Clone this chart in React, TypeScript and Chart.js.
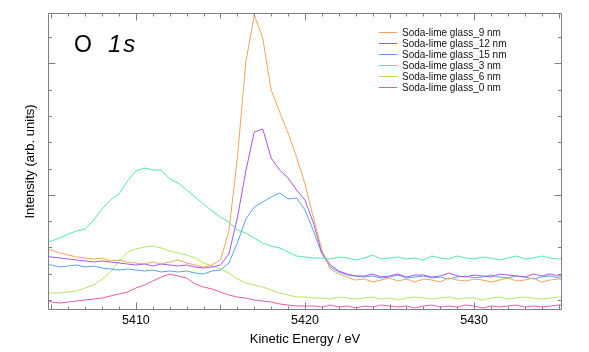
import { useEffect, useRef } from "react";
import { Chart, registerables } from "chart.js";

Chart.register(...registerables);

const FONT = "'Liberation Sans', Arial, Helvetica, sans-serif";

// Kinetic energy (eV)
const energies = [
  5404.5, 5405, 5405.5, 5406, 5406.5, 5407, 5407.5, 5408, 5408.5, 5409,
  5409.5, 5410, 5410.5, 5411, 5411.5, 5412, 5412.5, 5413, 5413.5, 5414,
  5414.5, 5415, 5415.5, 5416, 5416.5, 5417, 5417.5, 5418, 5418.5, 5419,
  5419.5, 5420, 5420.5, 5421, 5421.5, 5422, 5422.5, 5423, 5423.5, 5424,
  5424.5, 5425, 5425.5, 5426, 5426.5, 5427, 5427.5, 5428, 5428.5, 5429,
  5429.5, 5430, 5430.5, 5431, 5431.5, 5432, 5432.5, 5433, 5433.5, 5434,
  5434.5, 5435, 5435.5,
];

// Intensity (arb. units)
const glass9nm = [
  62, 60, 57, 55, 53, 52, 51, 52, 49, 50,
  48, 47, 46, 48, 46, 48, 50, 47, 45, 43,
  45, 50, 79, 152, 248, 295, 272, 220, 198, 177,
  153, 126, 92, 60, 41, 36, 33, 30, 31, 28,
  30, 32, 29, 31, 28, 31, 30, 28, 32, 30,
  29, 31, 30, 28, 30, 32, 29, 30, 32, 28,
  30, 31, 30,
];
const glass12nm = [
  54, 53, 52, 51, 50, 49, 48, 49, 48, 47,
  46, 45, 46, 44, 46, 45, 44, 45, 43, 42,
  43, 45, 56, 92, 139, 178, 181, 152, 140, 132,
  120, 110, 87, 57, 45, 39, 36, 34, 34, 36,
  33, 34, 36, 33, 35, 35, 33, 34, 37, 34,
  33, 35, 34, 33, 36, 35, 34, 33, 36, 34,
  36, 34, 35,
];
const glass15nm = [
  46, 45, 43, 44, 45, 43, 44, 42, 41, 40,
  41, 40, 39, 40, 38, 39, 38, 39, 37, 36,
  39, 40, 47, 67, 91, 103, 108, 113, 117, 111,
  112, 100, 79, 56, 43, 38, 35, 34, 33, 34,
  32, 33, 35, 32, 33, 34, 32, 33, 31, 33,
  34, 32, 33, 35, 33, 32, 34, 33, 31, 33,
  34, 32, 33,
];
const glass3nm = [
  67, 69, 72, 76, 79, 81, 90, 101, 110, 116,
  129, 139, 142, 140, 140, 131, 127, 120, 113, 106,
  99, 93, 88, 80, 77, 72, 67, 64, 62, 58,
  54, 53, 52, 52, 51, 53, 52, 50, 52, 55,
  51, 52, 53, 51, 52, 50, 54, 52, 51, 54,
  52, 51, 53, 52, 50, 52, 54, 51, 52, 54,
  52, 51, 53,
];
const glass6nm = [
  16, 17, 17, 18, 19, 22, 25, 31, 38, 49,
  58, 61, 63, 64, 62, 59, 57, 55, 52, 47,
  44, 41, 37, 31, 27, 25, 23, 20, 17, 15,
  13, 13, 12, 12, 11, 13, 12, 11, 12, 13,
  11, 12, 10, 12, 13, 12, 11, 12, 13, 11,
  12, 12, 10, 12, 13, 11, 12, 13, 12, 11,
  12, 13, 12,
];
const glass0nm = [
  10, 8, 7, 8, 9, 10, 11, 12, 14, 16,
  18, 22, 25, 29, 33, 36, 34, 32, 26, 23,
  21, 18, 15, 13, 12, 10, 9, 8, 6, 5,
  4, 4, 4, 3, 5, 3, 4, 2, 4, 3,
  5, 4, 3, 4, 2, 4, 5, 3, 4, 3,
  5, 4, 2, 4, 3, 4, 5, 3, 4, 3,
  4, 5, 4,
];

const seriesLabels = [
  "Soda-lime glass_9 nm",
  "Soda-lime glass_12 nm",
  "Soda-lime glass_15 nm",
  "Soda-lime glass_3 nm",
  "Soda-lime glass_6 nm",
  "Soda-lime glass_0 nm",
];
const seriesValues = [glass9nm, glass12nm, glass15nm, glass3nm, glass6nm, glass0nm];
const seriesColors = ["#f4a35c", "#a457ec", "#58a2ee", "#55e6a8", "#b2e65e", "#ec58ad"];

// Axis ticks
const xLabelValues = [5410, 5420, 5430];
const xTickMarks = [
  5405, 5406, 5407, 5408, 5409, 5410, 5411, 5412, 5413, 5414,
  5415, 5416, 5417, 5418, 5419, 5420, 5421, 5422, 5423, 5424,
  5425, 5426, 5427, 5428, 5429, 5430, 5431, 5432, 5433, 5434, 5435,
];
const yTickMarks = [10, 36.3, 62.6, 88.9, 115.2, 141.5, 167.8, 194.1, 220.4, 246.7, 273];
const yMajorTicks = [115.2, 246.7];

const framePlugin = {
  id: "frameTicks",
  afterDatasetsDraw(chart: any) {
    const { ctx, chartArea: a } = chart;
    const xs = chart.scales.x;
    const ys = chart.scales.y;
    const L = a.left + 0.5;
    const R = a.right - 0.5;
    const T = a.top + 0.5;
    const B = a.bottom - 0.5;
    ctx.save();
    ctx.strokeStyle = "#7f7f7f";
    ctx.lineWidth = 1;
    ctx.beginPath();
    ctx.moveTo(L, T);
    ctx.lineTo(R, T);
    ctx.lineTo(R, B);
    ctx.lineTo(L, B);
    ctx.closePath();
    for (const v of xTickMarks) {
      const px = Math.round(xs.getPixelForValue(v)) + 0.5;
      const len = v % 10 === 0 ? 7 : v % 5 === 0 ? 5 : 3;
      ctx.moveTo(px, B);
      ctx.lineTo(px, B - len);
      ctx.moveTo(px, T);
      ctx.lineTo(px, T + len);
    }
    for (const v of yTickMarks) {
      const py = Math.round(ys.getPixelForValue(v)) + 0.5;
      const len = yMajorTicks.includes(v) ? 7 : 3.5;
      ctx.moveTo(L, py);
      ctx.lineTo(L + len, py);
      ctx.moveTo(R, py);
      ctx.lineTo(R - len, py);
    }
    ctx.stroke();
    ctx.restore();
  },
};

const overlayPlugin = {
  id: "overlay",
  afterDraw(chart: any) {
    const { ctx } = chart;
    ctx.save();
    ctx.fillStyle = "#000";
    ctx.textAlign = "left";
    ctx.textBaseline = "alphabetic";
    ctx.font = `23px ${FONT}`;
    ctx.fillText("O", 74, 52);
    ctx.font = `italic 24px ${FONT}`;
    if ("letterSpacing" in ctx) (ctx as any).letterSpacing = "2px";
    ctx.fillText("1s", 108, 52);
    if ("letterSpacing" in ctx) (ctx as any).letterSpacing = "0px";

    ctx.font = `10px ${FONT}`;
    ctx.textBaseline = "middle";
    seriesLabels.forEach((label, i) => {
      const y = Math.round(32.3 + i * 10.85) + 0.5;
      ctx.strokeStyle = seriesColors[i];
      ctx.lineWidth = 1;
      ctx.beginPath();
      ctx.moveTo(379, y);
      ctx.lineTo(397, y);
      ctx.stroke();
      ctx.fillStyle = "#111";
      ctx.fillText(label, 402, y + 0.5);
    });
    ctx.restore();
  },
};

export default function App() {
  const canvasRef = useRef<HTMLCanvasElement | null>(null);

  useEffect(() => {
    const canvas = canvasRef.current;
    if (!canvas) return;
    const chart = new Chart(canvas, {
      type: "line",
      data: {
        datasets: seriesValues.map((vals, i) => ({
          label: seriesLabels[i],
          data: energies.map((x, j) => ({ x, y: vals[j] })),
          borderColor: seriesColors[i],
          backgroundColor: seriesColors[i],
          borderWidth: 1,
          pointRadius: 0,
          fill: false,
          tension: 0,
        })),
      },
      options: {
        animation: false,
        responsive: false,
        layout: { padding: { top: 13, right: 27, left: 0, bottom: 0 } },
        plugins: {
          legend: { display: false },
          tooltip: { enabled: false },
        },
        scales: {
          x: {
            type: "linear",
            min: 5404.8,
            max: 5435.2,
            grid: { display: false, drawTicks: false },
            border: { display: false },
            afterBuildTicks: (s: any) => {
              s.ticks = xLabelValues.map((value) => ({ value }));
            },
            ticks: {
              autoSkip: false,
              maxRotation: 0,
              padding: 3,
              color: "#000",
              font: { family: FONT, size: 12.5 },
              callback: (v: any) => String(v),
            },
            title: {
              display: true,
              text: "Kinetic Energy / eV",
              color: "#000",
              font: { family: FONT, size: 13 },
              padding: { top: 0, bottom: 5 },
            },
            afterFit: (s: any) => {
              s.height = 42;
            },
          },
          y: {
            type: "linear",
            min: 0,
            max: 297,
            grid: { display: false, drawTicks: false },
            border: { display: false },
            ticks: { display: false },
            title: {
              display: true,
              text: "Intensity (arb. units)",
              color: "#000",
              font: { family: FONT, size: 13 },
              padding: { top: 23, bottom: 0 },
            },
            afterFit: (s: any) => {
              s.width = 48;
            },
          },
        },
      } as any,
      plugins: [framePlugin, overlayPlugin],
    });
    return () => chart.destroy();
  }, []);

  return (
    <div style={{ position: "fixed", left: 0, top: 0, width: 589, height: 352, background: "#fff" }}>
      <canvas ref={canvasRef} width={589} height={352} style={{ display: "block" }} />
    </div>
  );
}
